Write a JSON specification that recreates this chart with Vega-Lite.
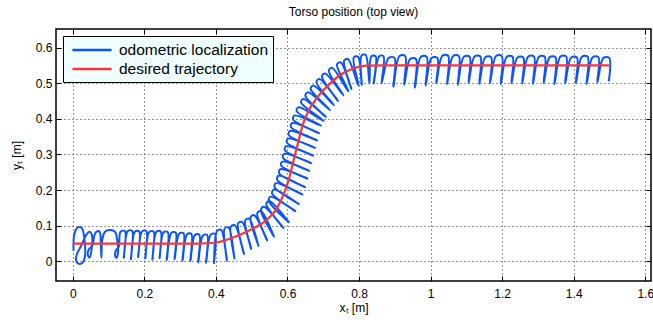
{
"$schema": "https://vega.github.io/schema/vega-lite/v6.json",
"width": 595, "height": 252,
"autosize": {"type": "none"},
"padding": {"left": 56, "top": 29, "right": 2, "bottom": 39},
"title": {"text": "Torso position (top view)", "fontSize": 12, "fontWeight": "normal", "font": "Liberation Sans", "offset": 10, "color": "#000"},
"config": {
  "view": {"stroke": "#000", "strokeWidth": 1.5},
  "font": "Liberation Sans",
  "axis": {"labelFont": "Liberation Sans", "titleFont": "Liberation Sans", "labelColor": "#000", "titleColor": "#000", "labelFontSize": 12, "titleFontSize": 12, "titleFontWeight": "normal", "tickColor": "#000", "tickSize": -5, "tickWidth": 1, "domain": false, "labelFlush": false, "labelOverlap": false, "gridColor": "#333", "gridDash": [1, 3], "gridWidth": 1, "gridOpacity": 1}
},
"datasets": {
"blue": [
{"i":1,"x":0.002,"y":0.030},{"i":2,"x":0.004,"y":0.075},{"i":3,"x":0.013,"y":0.095},{"i":4,"x":0.025,"y":0.094},{"i":5,"x":0.032,"y":0.065},{"i":6,"x":0.034,"y":0.015},{"i":7,"x":0.027,"y":-0.004},{"i":8,"x":0.015,"y":-0.006},{"i":9,"x":0.009,"y":0.004},{"i":10,"x":0.012,"y":0.022},
{"i":11,"x":0.024,"y":0.045},{"i":12,"x":0.038,"y":0.075},{"i":13,"x":0.047,"y":0.083},{"i":14,"x":0.053,"y":0.075},{"i":15,"x":0.052,"y":0.030},{"i":16,"x":0.047,"y":0.011},{"i":17,"x":0.042,"y":0.018},{"i":18,"x":0.045,"y":0.034},{"i":19,"x":0.055,"y":0.045},{"i":20,"x":0.060,"y":0.072},
{"i":21,"x":0.067,"y":0.084},{"i":22,"x":0.075,"y":0.083},{"i":23,"x":0.078,"y":0.055},{"i":24,"x":0.080,"y":0.010},{"i":25,"x":0.082,"y":0.058},{"i":26,"x":0.090,"y":0.083},{"i":27,"x":0.105,"y":0.088},{"i":28,"x":0.118,"y":0.083},{"i":29,"x":0.124,"y":0.060},{"i":30,"x":0.126,"y":0.022},
{"i":31,"x":0.122,"y":0.010},{"i":32,"x":0.118,"y":0.018},{"i":33,"x":0.121,"y":0.032},{"i":34,"x":0.128,"y":0.040},
{"i":35,"x":0.1335,"y":0.083},{"i":36,"x":0.1455,"y":0.085},{"i":37,"x":0.1425,"y":0.010},
{"i":38,"x":0.1535,"y":0.085},{"i":39,"x":0.1655,"y":0.086},{"i":40,"x":0.1625,"y":0.006},
{"i":41,"x":0.1735,"y":0.083},{"i":42,"x":0.1855,"y":0.084},{"i":43,"x":0.1825,"y":0.012},
{"i":44,"x":0.1935,"y":0.084},{"i":45,"x":0.2055,"y":0.085},{"i":46,"x":0.2025,"y":0.008},
{"i":47,"x":0.2135,"y":0.082},{"i":48,"x":0.2255,"y":0.084},{"i":49,"x":0.2225,"y":0.005},
{"i":50,"x":0.2335,"y":0.083},{"i":51,"x":0.2455,"y":0.084},{"i":52,"x":0.2425,"y":0.009},
{"i":53,"x":0.2535,"y":0.081},{"i":54,"x":0.2655,"y":0.082},{"i":55,"x":0.2625,"y":0.004},
{"i":56,"x":0.2755,"y":0.080},{"i":57,"x":0.2875,"y":0.081},{"i":58,"x":0.2845,"y":0.006},
{"i":59,"x":0.2975,"y":0.078},{"i":60,"x":0.3095,"y":0.079},{"i":61,"x":0.3065,"y":0.002},
{"i":62,"x":0.3195,"y":0.076},{"i":63,"x":0.3315,"y":0.077},{"i":64,"x":0.3285,"y":0.001},
{"i":65,"x":0.3415,"y":0.074},{"i":66,"x":0.3535,"y":0.075},{"i":67,"x":0.3505,"y":-0.003},
{"i":68,"x":0.3635,"y":0.072},{"i":69,"x":0.3755,"y":0.074},{"i":70,"x":0.3725,"y":-0.004},
{"i":71,"x":0.3855,"y":0.075},{"i":72,"x":0.3975,"y":0.077},{"i":73,"x":0.3945,"y":-0.005},
{"i":74,"x":0.4029,"y":0.0851},{"i":75,"x":0.4144,"y":0.0885},{"i":76,"x":0.4307,"y":0.002},
{"i":77,"x":0.424,"y":0.0915},{"i":78,"x":0.4355,"y":0.0949},{"i":79,"x":0.4518,"y":0.008},
{"i":80,"x":0.4416,"y":0.0971},{"i":81,"x":0.4526,"y":0.1019},{"i":82,"x":0.4785,"y":0.020},
{"i":83,"x":0.4617,"y":0.106},{"i":84,"x":0.4727,"y":0.1108},{"i":85,"x":0.4986,"y":0.0347},
{"i":86,"x":0.4819,"y":0.1148},{"i":87,"x":0.4929,"y":0.1196},{"i":88,"x":0.5188,"y":0.0435},
{"i":89,"x":0.4968,"y":0.1234},{"i":90,"x":0.507,"y":0.1297},{"i":91,"x":0.5434,"y":0.0583},
{"i":92,"x":0.5155,"y":0.135},{"i":93,"x":0.5257,"y":0.1413},{"i":94,"x":0.5621,"y":0.0699},
{"i":95,"x":0.5259,"y":0.1441},{"i":96,"x":0.534,"y":0.153},{"i":97,"x":0.5885,"y":0.0939},
{"i":98,"x":0.5407,"y":0.1604},{"i":99,"x":0.5488,"y":0.1693},{"i":100,"x":0.6033,"y":0.1102},
{"i":101,"x":0.5476,"y":0.1708},{"i":102,"x":0.5527,"y":0.1816},{"i":103,"x":0.6221,"y":0.1409},
{"i":104,"x":0.5571,"y":0.1907},{"i":105,"x":0.5622,"y":0.2015},{"i":106,"x":0.6316,"y":0.1608},
{"i":107,"x":0.5643,"y":0.208},{"i":108,"x":0.5681,"y":0.2194},{"i":109,"x":0.6419,"y":0.1874},
{"i":110,"x":0.5713,"y":0.2289},{"i":111,"x":0.5751,"y":0.2403},{"i":112,"x":0.6489,"y":0.2083},
{"i":113,"x":0.5771,"y":0.2472},{"i":114,"x":0.58,"y":0.2589},{"i":115,"x":0.6559,"y":0.2326},
{"i":116,"x":0.5825,"y":0.2685},{"i":117,"x":0.5854,"y":0.2802},{"i":118,"x":0.6613,"y":0.2539},
{"i":119,"x":0.5878,"y":0.2901},{"i":120,"x":0.5907,"y":0.3018},{"i":121,"x":0.6666,"y":0.2755},
{"i":122,"x":0.5932,"y":0.3114},{"i":123,"x":0.5961,"y":0.3231},{"i":124,"x":0.672,"y":0.2968},
{"i":125,"x":0.5986,"y":0.333},{"i":126,"x":0.6015,"y":0.3447},{"i":127,"x":0.6774,"y":0.3184},
{"i":128,"x":0.6039,"y":0.3543},{"i":129,"x":0.6068,"y":0.366},{"i":130,"x":0.6827,"y":0.3397},
{"i":131,"x":0.61,"y":0.3768},{"i":132,"x":0.6133,"y":0.3883},{"i":133,"x":0.6884,"y":0.3595},
{"i":134,"x":0.616,"y":0.3979},{"i":135,"x":0.6193,"y":0.4094},{"i":136,"x":0.6944,"y":0.3806},
{"i":137,"x":0.6257,"y":0.4211},{"i":138,"x":0.6305,"y":0.4322},{"i":139,"x":0.7013,"y":0.3942},
{"i":140,"x":0.6378,"y":0.4459},{"i":141,"x":0.6444,"y":0.4559},{"i":142,"x":0.7072,"y":0.4056},
{"i":143,"x":0.65,"y":0.4642},{"i":144,"x":0.6566,"y":0.4742},{"i":145,"x":0.7194,"y":0.4239},
{"i":146,"x":0.6647,"y":0.484},{"i":147,"x":0.6722,"y":0.4933},{"i":148,"x":0.7302,"y":0.4378},
{"i":149,"x":0.6809,"y":0.5033},{"i":150,"x":0.6894,"y":0.5118},{"i":151,"x":0.741,"y":0.4502},
{"i":152,"x":0.6965,"y":0.5189},{"i":153,"x":0.705,"y":0.5274},{"i":154,"x":0.7566,"y":0.4658},
{"i":155,"x":0.7154,"y":0.5352},{"i":156,"x":0.7246,"y":0.5429},{"i":157,"x":0.7704,"y":0.477},
{"i":158,"x":0.7384,"y":0.5527},{"i":159,"x":0.7492,"y":0.5581},{"i":160,"x":0.7787,"y":0.4834},
{"i":161,"x":0.7581,"y":0.5625},{"i":162,"x":0.7689,"y":0.5679},{"i":163,"x":0.7984,"y":0.4932},
{"i":164,"x":0.7851,"y":0.5719},{"i":165,"x":0.7968,"y":0.5746},{"i":166,"x":0.8076,"y":0.4949},
{"i":167,"x":0.8066,"y":0.5768},{"i":168,"x":0.8183,"y":0.5795},{"i":169,"x":0.8291,"y":0.4998},
{"i":170,"x":0.8344,"y":0.5753},{"i":171,"x":0.8464,"y":0.5756},{"i":172,"x":0.841,"y":0.4994},
{"i":173,"x":0.8564,"y":0.5757},{"i":174,"x":0.8684,"y":0.576},{"i":175,"x":0.863,"y":0.4998},
{"i":176,"x":0.883,"y":0.571},{"i":177,"x":0.899,"y":0.571},{"i":178,"x":0.896,"y":0.490},
{"i":179,"x":0.913,"y":0.576},{"i":180,"x":0.929,"y":0.576},{"i":181,"x":0.926,"y":0.495},
{"i":182,"x":0.943,"y":0.568},{"i":183,"x":0.959,"y":0.568},{"i":184,"x":0.956,"y":0.488},
{"i":185,"x":0.973,"y":0.574},{"i":186,"x":0.989,"y":0.574},{"i":187,"x":0.986,"y":0.493},
{"i":188,"x":1.003,"y":0.571},{"i":189,"x":1.019,"y":0.571},{"i":190,"x":1.016,"y":0.500},
{"i":191,"x":1.033,"y":0.577},{"i":192,"x":1.049,"y":0.577},{"i":193,"x":1.046,"y":0.497},
{"i":194,"x":1.063,"y":0.576},{"i":195,"x":1.079,"y":0.576},{"i":196,"x":1.076,"y":0.495},
{"i":197,"x":1.093,"y":0.574},{"i":198,"x":1.109,"y":0.574},{"i":199,"x":1.106,"y":0.500},
{"i":200,"x":1.123,"y":0.575},{"i":201,"x":1.139,"y":0.575},{"i":202,"x":1.136,"y":0.498},
{"i":203,"x":1.153,"y":0.573},{"i":204,"x":1.169,"y":0.573},{"i":205,"x":1.166,"y":0.500},
{"i":206,"x":1.183,"y":0.576},{"i":207,"x":1.199,"y":0.576},{"i":208,"x":1.196,"y":0.497},
{"i":209,"x":1.213,"y":0.574},{"i":210,"x":1.229,"y":0.574},{"i":211,"x":1.226,"y":0.500},
{"i":212,"x":1.243,"y":0.572},{"i":213,"x":1.259,"y":0.572},{"i":214,"x":1.256,"y":0.499},
{"i":215,"x":1.273,"y":0.575},{"i":216,"x":1.289,"y":0.575},{"i":217,"x":1.286,"y":0.498},
{"i":218,"x":1.303,"y":0.574},{"i":219,"x":1.319,"y":0.574},{"i":220,"x":1.316,"y":0.500},
{"i":221,"x":1.333,"y":0.573},{"i":222,"x":1.349,"y":0.573},{"i":223,"x":1.346,"y":0.497},
{"i":224,"x":1.363,"y":0.575},{"i":225,"x":1.379,"y":0.575},{"i":226,"x":1.376,"y":0.499},
{"i":227,"x":1.393,"y":0.572},{"i":228,"x":1.409,"y":0.572},{"i":229,"x":1.406,"y":0.500},
{"i":230,"x":1.423,"y":0.574},{"i":231,"x":1.439,"y":0.574},{"i":232,"x":1.436,"y":0.498},
{"i":233,"x":1.453,"y":0.573},{"i":234,"x":1.469,"y":0.573},{"i":235,"x":1.466,"y":0.502},
{"i":236,"x":1.483,"y":0.571},{"i":237,"x":1.499,"y":0.571},{"i":238,"x":1.498,"y":0.505}
],
"red": [
{"x":0,"y":0.05},{"x":0.35,"y":0.05},{"x":0.40,"y":0.053},{"x":0.45,"y":0.068},{"x":0.50,"y":0.09},{"x":0.54,"y":0.115},{"x":0.57,"y":0.148},{"x":0.59,"y":0.19},{"x":0.605,"y":0.235},{"x":0.615,"y":0.275},{"x":0.625,"y":0.315},{"x":0.635,"y":0.355},{"x":0.645,"y":0.39},{"x":0.66,"y":0.425},{"x":0.68,"y":0.455},{"x":0.70,"y":0.48},{"x":0.72,"y":0.50},{"x":0.75,"y":0.525},{"x":0.78,"y":0.54},{"x":0.82,"y":0.549},{"x":0.87,"y":0.55},{"x":1.5,"y":0.55}
]
},
"layer": [
{
"data": {"name": "blue"},
"mark": {"type": "line", "interpolate": "catmull-rom", "strokeWidth": 2, "clip": true},
"encoding": {
  "x": {"field": "x", "type": "quantitative", "scale": {"domain": [-0.047, 1.616], "nice": false, "zero": false},
        "axis": {"orient": "bottom", "values": [0,0.2,0.4,0.6,0.8,1,1.2,1.4,1.6], "format": "~g", "title": "xₜ [m]", "grid": true, "labelPadding": 12, "titlePadding": 3}},
  "y": {"field": "y", "type": "quantitative", "scale": {"domain": [-0.055, 0.652], "nice": false, "zero": false},
        "axis": {"orient": "left", "values": [0,0.1,0.2,0.3,0.4,0.5,0.6], "format": "~g", "title": "yₜ [m]", "grid": true, "labelPadding": 9, "titlePadding": 12}},
  "order": {"field": "i", "type": "quantitative"},
  "color": {"datum": "odometric localization",
    "scale": {"domain": ["odometric localization", "desired trajectory"], "range": ["#0a55ff", "#ff3535"]},
    "legend": {"orient": "none", "legendX": 7, "legendY": 7, "title": null, "fillColor": "#effefe", "strokeColor": "#000", "padding": 4, "symbolType": "M-2.3,0L2.3,0", "symbolSize": 289, "symbolOffset": 15, "symbolStrokeWidth": 2.5, "labelFontSize": 15.5, "labelFont": "Liberation Sans", "labelColor": "#000", "rowPadding": 0, "labelOffset": 17}}
}
},
{
"data": {"name": "red"},
"mark": {"type": "line", "interpolate": "monotone", "strokeWidth": 2.2},
"encoding": {
  "x": {"field": "x", "type": "quantitative", "axis": {"orient": "top", "values": [0,0.2,0.4,0.6,0.8,1,1.2,1.4,1.6], "labels": false, "title": null, "grid": false}},
  "y": {"field": "y", "type": "quantitative", "axis": {"orient": "right", "values": [0,0.1,0.2,0.3,0.4,0.5,0.6], "labels": false, "title": null, "grid": false}},
  "color": {"datum": "desired trajectory"}
}
}
],
"resolve": {"axis": {"x": "independent", "y": "independent"}}
}
